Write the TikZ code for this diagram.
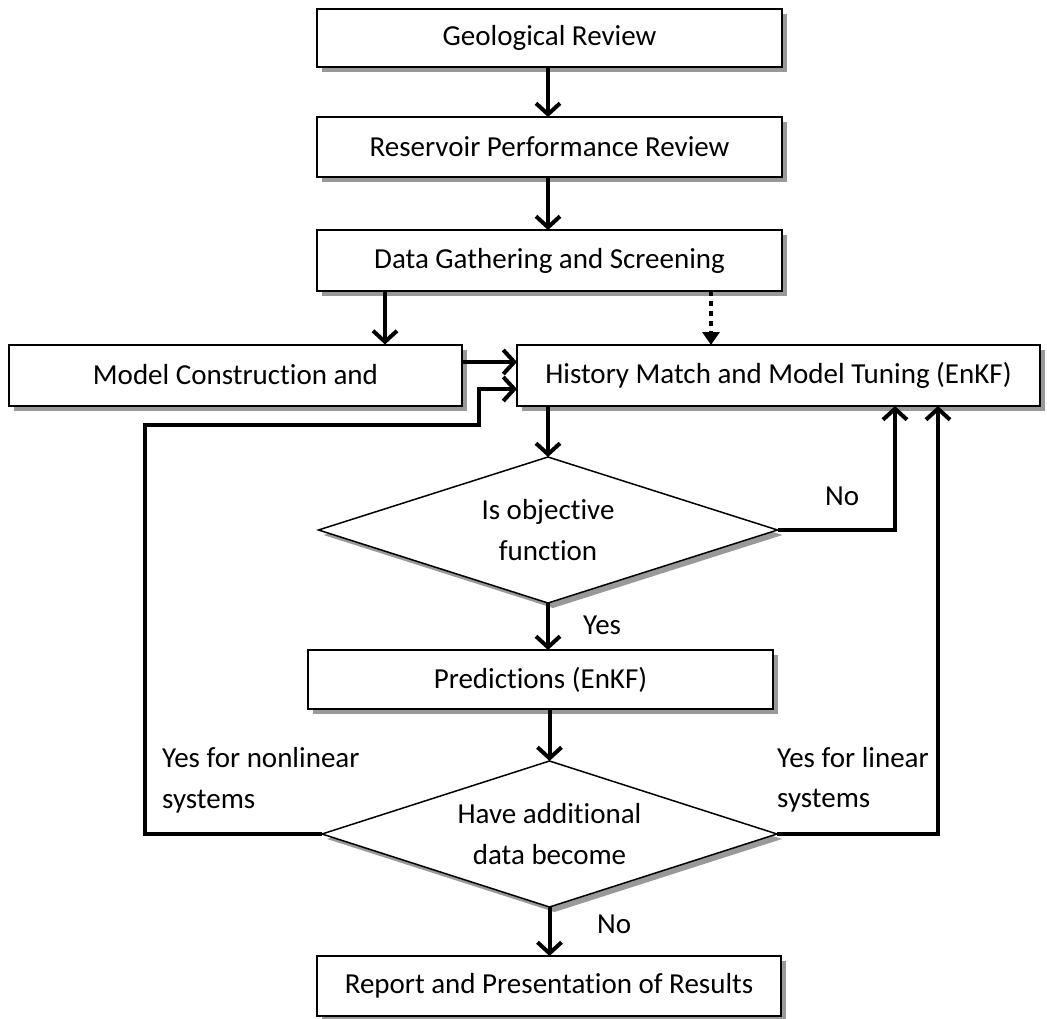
\documentclass[tikz,border=0pt]{standalone}
\usepackage{fontspec}
\setmainfont{Carlito}[Ligatures={NoCommon}]
\usetikzlibrary{arrows.meta,shapes.geometric,shadows}
\begin{document}
\begin{tikzpicture}[x=1pt,y=-1pt,
  font=\fontsize{29}{41}\selectfont,
  shad/.style={drop shadow={shadow xshift=5pt,shadow yshift=-5pt,fill=black!40,opacity=1}},
  procbox/.style={shad,draw,fill=white,line width=2pt,inner sep=0pt,outer sep=0pt,rectangle},
  decis/.style={shad,draw,fill=white,line width=1.5pt,diamond,inner sep=0pt,outer sep=0pt,aspect=3.1,align=center},
  arr/.style={line width=4pt,-{Straight Barb[length=11pt,width=24pt]}},
  darr/.style={line width=4pt,dash pattern=on 5pt off 5pt,-{Triangle[length=13pt,width=17pt]}},
  lbl/.style={inner sep=0pt,anchor=base west}]
\useasboundingbox (0,0) rectangle (1047,1019);

\node[procbox,minimum width=465pt,minimum height=58pt] (gr) at (549.5,38) {Geological Review};
\node[procbox,minimum width=465pt,minimum height=60pt] (rp) at (549.5,147) {Reservoir Performance Review};
\node[procbox,minimum width=465pt,minimum height=61pt] (dg) at (549.5,260.5) {Data Gathering and Screening};
\node[procbox,minimum width=453pt,minimum height=61pt] (mc) at (235.5,375) {Model Construction and};
\node[procbox,minimum width=523pt,minimum height=61pt] (hm) at (778.5,375.5) {History Match and Model Tuning (EnKF)};
\node[decis,minimum width=459pt,minimum height=146pt] (d1) at (548,530) {Is objective\\function};
\node[procbox,minimum width=465pt,minimum height=59pt] (pr) at (540.5,679.5) {Predictions (EnKF)};
\node[decis,minimum width=455pt,minimum height=146pt] (d2) at (549.5,834) {Have additional\\data become};
\node[procbox,minimum width=464pt,minimum height=60pt] (rr) at (549,986) {Report and Presentation of Results};

\node[lbl] (no1) at (825,505) {No};
\node[lbl] (yes1) at (583,634) {Yes};
\node[lbl] (no2) at (597,933) {No};
\node[lbl] (ynl1) at (162,767) {Yes for nonlinear};
\node[lbl] (ynl2) at (162,808) {systems};
\node[lbl] (yl1) at (777,767) {Yes for linear};
\node[lbl] (yl2) at (777,807) {systems};

\coordinate (a1) at (385,0);
\coordinate (a2) at (711,0);
\coordinate (r1) at (895,530);
\coordinate (r2) at (938,834);
\coordinate (l1) at (145,834);
\coordinate (l2) at (145,425);
\coordinate (l3) at (479,425);
\coordinate (l4) at (479,389);

\draw[arr] (gr.south -| d1.north) -- (rp.north -| d1.north);
\draw[arr] (rp.south -| d1.north) -- (dg.north -| d1.north);
\draw[arr] (dg.south -| a1) -- (mc.north -| a1);
\draw[darr] (dg.south -| a2) -- (hm.north -| a2);
\draw[arr] ([yshift=13pt]mc.east) -- ([yshift=13pt]mc.east -| hm.west);
\draw[arr] (hm.south -| d1.north) -- (d1.north);
\draw[arr] (d1.south) -- (d1.south |- pr.north);
\draw[arr] (d2.north |- pr.south) -- (d2.north);
\draw[arr] (d2.south) -- (d2.south |- rr.north);
\draw[arr] (d1.east) -- (r1) -- (r1 |- hm.south);
\draw[arr] (d2.east) -- (r2) -- (r2 |- hm.south);
\draw[arr] (d2.west) -- (l1) -- (l2) -- (l3) -- (l4) -- (l4 -| hm.west);
\end{tikzpicture}
\end{document}
